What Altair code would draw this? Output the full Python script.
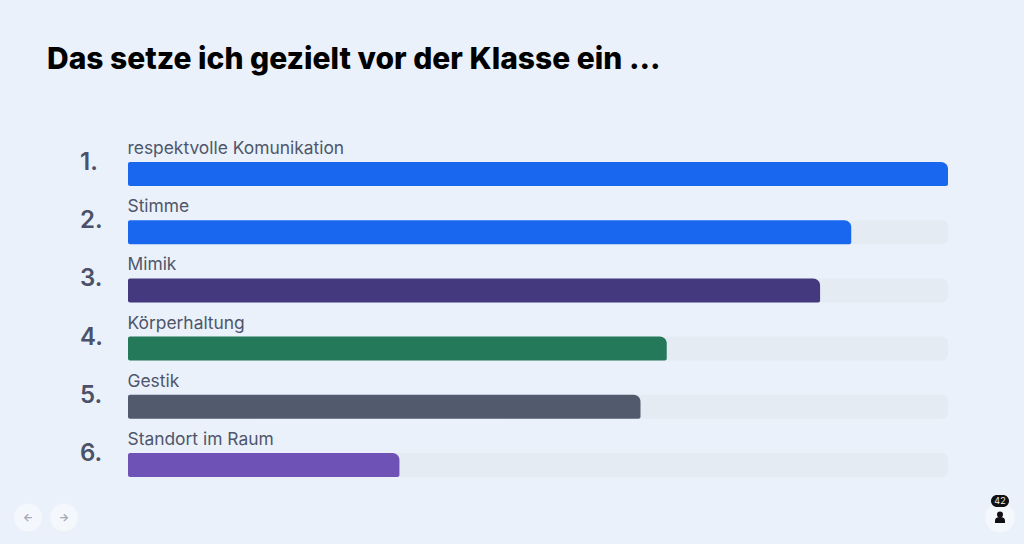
import altair as alt
import pandas as pd

BG = "#EAF1FA"
FONT = "Inter"

title_text = "Das setze ich gezielt vor der Klasse ein ..."
categories = ["respektvolle Komunikation", "Stimme", "Mimik", "Körperhaltung", "Gestik", "Standort im Raum"]
ranks = ["1.", "2.", "3.", "4.", "5.", "6."]
values = [100, 88.2, 84.4, 65.7, 62.5, 33.1]
colors = ["#1967EF", "#1967EF", "#44387F", "#24795A", "#525A6E", "#6F52B6"]
track_max = [100, 100, 100, 100, 100, 100]

df = pd.DataFrame({"category": categories, "rank": ranks, "value": values,
                   "color": colors, "track": track_max, "zero": [0] * 6})

x_scale = alt.Scale(domain=[0, 100], range=[120, 940])
y_scale = alt.Scale(type="band", domain=categories, range=[137, 486], paddingInner=0, paddingOuter=0)
X = alt.X("value:Q", scale=x_scale, axis=None)
Y = alt.Y("category:N", scale=y_scale, axis=None, sort=None)

base = alt.Chart(df)

track = base.mark_bar(size=24, color="#E5EBF3", cornerRadius=6).encode(
    x=alt.X("track:Q", scale=x_scale, axis=None), x2="zero:Q", y=Y)

bars = base.mark_bar(size=24, cornerRadiusTopRight=7, cornerRadiusBottomRight=2,
                     cornerRadiusTopLeft=2, cornerRadiusBottomLeft=2).encode(
    x=X, x2="zero:Q", y=Y, color=alt.Color("color:N", scale=None, legend=None))

labels = base.mark_text(align="left", baseline="middle", font=FONT, fontSize=17.4,
                        color="#4F566B", dy=-25, dx=-0.5).encode(
    x=alt.X("zero:Q", scale=x_scale, axis=None), y=Y, text="category:N")

rank_marks = base.mark_text(align="left", baseline="middle", font=FONT, fontSize=24,
                            fontWeight=600, color="#4A5168", dy=-11).encode(
    x=alt.value(72), y=Y, text="rank:N")

heading = alt.Chart(pd.DataFrame({"t": [title_text]})).mark_text(
    align="left", baseline="middle", font=FONT, fontSize=30, fontWeight=800, color="#000000"
).encode(x=alt.value(39), y=alt.value(51.5), text="t:N")

def circle(px, py, size, color):
    return alt.Chart(pd.DataFrame({"a": [0]})).mark_point(
        shape="circle", filled=True, size=size, color=color, opacity=1
    ).encode(x=alt.value(px), y=alt.value(py))

def glyph(px, py, text, size, color, weight=400):
    return alt.Chart(pd.DataFrame({"t": [text]})).mark_text(
        align="center", baseline="middle", font=FONT, fontSize=size, color=color, fontWeight=weight
    ).encode(x=alt.value(px), y=alt.value(py), text="t:N")

btn = "#F4F7FC"
buttons = [
    circle(20, 509.5, 784, btn), glyph(20, 509.5, "←", 11, "#A6A9B2", 700),
    circle(56, 509.5, 784, btn), glyph(56, 509.5, "→", 11, "#A6A9B2", 700),
    circle(992, 509.5, 900, btn),
    circle(992, 506.5, 36, "#101014"),
    alt.Chart(pd.DataFrame({"a": [0]})).mark_point(
        shape="M-1,0.6 L-1,0.1 Q-1,-0.6 0,-0.6 Q1,-0.6 1,0.1 L1,0.6 Z",
        filled=True, size=100, color="#101014", opacity=1
    ).encode(x=alt.value(992), y=alt.value(512)),
    alt.Chart(pd.DataFrame({"a": [0]})).mark_bar(color="#101014", cornerRadius=6).encode(
        x=alt.value(983), x2=alt.value(1001), y=alt.value(487), y2=alt.value(499)),
    glyph(992, 493, "42", 9, "#F0F0F0"),
]

chart = alt.layer(track, bars, labels, rank_marks, heading, *buttons).properties(
    width=1008, height=528, background=BG, padding=0,
    autosize=alt.AutoSizeParams(type="none"),
).configure_view(stroke=None)

chart.save("out.html", embed_options={"renderer": "svg", "actions": False,
                                      "defaultStyle": f"html,body{{background:{BG};}}"})
